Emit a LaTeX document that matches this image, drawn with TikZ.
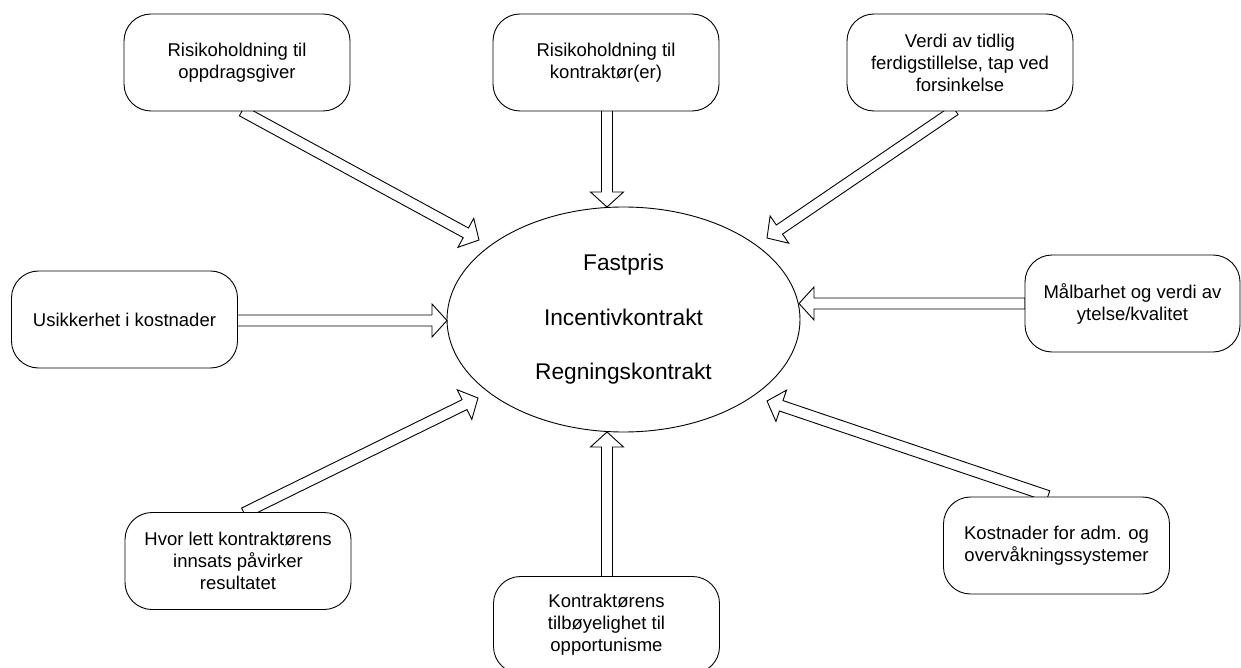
\documentclass[tikz,border=0pt]{standalone}
\usepackage{fontspec}
\setmainfont{Liberation Sans}
\usetikzlibrary{calc,shapes.geometric}
\tikzset{
  box/.style={draw, line width=0.9pt, fill=white, rounded corners=27pt,
    minimum width=226pt, minimum height=97pt, align=center, inner sep=0pt,
    font=\fontsize{18.5}{22}\selectfont},
  oval/.style={draw, line width=0.9pt, ellipse, minimum width=353pt, minimum height=225pt,
    inner sep=0pt, align=center, font=\fontsize{22.7}{54.5}\selectfont},
  blockarr/.style={draw, line width=0.9pt, fill=white, line join=miter}
}
\newcommand{\blockarrow}[2]{%
  \path ($(#2)!15pt!(#1)$) coordinate (hb);
  \draw[blockarr] ($(#1)!5.5pt!90:(#2)$) -- ($(hb)!5.5pt!90:(#2)$) -- ($(hb)!16.5pt!90:(#2)$)
    -- (#2) -- ($(hb)!16.5pt!-90:(#2)$) -- ($(hb)!5.5pt!-90:(#2)$) -- ($(#1)!5.5pt!-90:(#2)$) -- cycle;
}
\begin{document}
\begin{tikzpicture}[x=1pt,y=-1pt]
\useasboundingbox (0,0) rectangle (1241,668);
% tails and tips
\coordinate (t1) at (242,111);  \coordinate (h1) at (479,240);
\coordinate (t2) at (607,110);  \coordinate (h2) at (607,207);
\coordinate (t3) at (955,110);  \coordinate (h3) at (767,238);
\coordinate (t4) at (237,320.5);\coordinate (h4) at (447,320.5);
\coordinate (t5) at (1025,303.5);\coordinate (h5) at (799,303.5);
\coordinate (t6) at (244,513);  \coordinate (h6) at (478,398);
\coordinate (t7) at (607,577);  \coordinate (h7) at (607,432);
\coordinate (t8) at (1048,496); \coordinate (h8) at (767,401);
\foreach \i in {1,...,8} {\blockarrow{t\i}{h\i}}
% central ellipse
\node[oval] (el) at (623.5,319.5) {Fastpris\\Incentivkontrakt\\Regningskontrakt};
% boxes
\node[box] (b1) at (237,62.5) {Risikoholdning til\\oppdragsgiver};
\node[box] (b2) at (606,62.5) {Risikoholdning til\\kontraktør(er)};
\node[box] (b3) at (960,62.5) {Verdi av tidlig\\ferdigstillelse, tap ved\\forsinkelse};
\node[box] (b4) at (124.5,319.5) {Usikkerhet i kostnader};
\node[box, minimum width=215pt] (b5) at (1132.5,303.5) {Målbarhet og verdi av\\ytelse/kvalitet};
\node[box] (b6) at (238,561) {Hvor lett kontraktørens\\innsats påvirker\\resultatet};
\node[box] (b7) at (606.5,625) {Kontraktørens\\tilbøyelighet til\\opportunisme};
\node[box] (b8) at (1056.5,545.5) {Kostnader for adm. og\\overvåkningssystemer};
\end{tikzpicture}
\end{document}
